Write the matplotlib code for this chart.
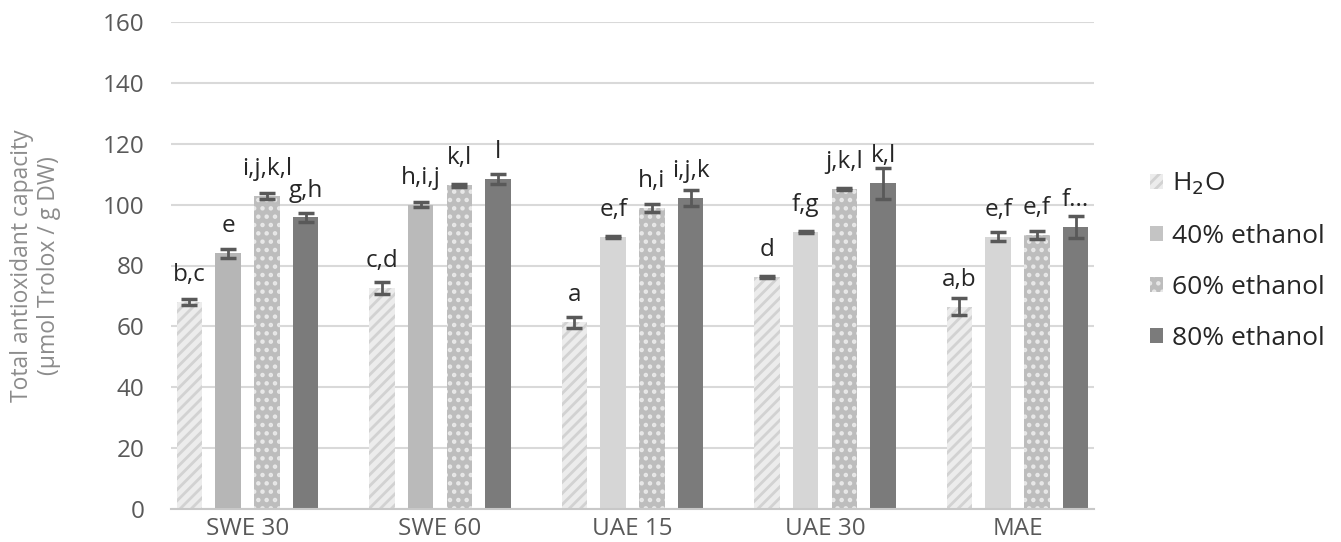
import matplotlib
matplotlib.use("Agg")
import matplotlib.pyplot as plt
import numpy as np
from matplotlib.patches import Patch

# ---- data ----
categories = ["SWE 30", "SWE 60", "UAE 15", "UAE 30", "MAE"]
series = ["H$_2$O", "40% ethanol", "60% ethanol", "80% ethanol"]
h2o = [68.0, 72.6, 61.4, 76.2, 66.4]
eth40 = [84.0, 100.0, 89.4, 91.0, 89.4]
eth60 = [102.8, 106.4, 98.9, 105.1, 90.0]
eth80 = [95.8, 108.4, 102.2, 107.0, 92.6]
err_h2o = [1.0, 2.0, 1.8, 0.3, 2.8]
err_40 = [1.5, 0.8, 0.3, 0.3, 1.5]
err_60 = [1.0, 0.5, 1.2, 0.3, 1.3]
err_80 = [1.5, 1.5, 2.6, 5.0, 3.6]
lab_h2o = ["b,c", "c,d", "a", "d", "a,b"]
lab_40 = ["e", "h,i,j", "e,f", "f,g", "e,f"]
lab_60 = ["i,j,k,l", "k,l", "h,i", "j,k,l", "e,f"]
lab_80 = ["g,h", "l", "i,j,k", "k,l", "f..."]

values = [h2o, eth40, eth60, eth80]
errors = [err_h2o, err_40, err_60, err_80]
labels = [lab_h2o, lab_40, lab_60, lab_80]

plt.rcParams['font.family'] = ['Open Sans', 'DejaVu Sans']
plt.rcParams['hatch.linewidth'] = 2.0

fig = plt.figure(figsize=(13.41, 5.42), dpi=100)
ax = fig.add_axes([171/1341, 1 - 509/542, (1094 - 171)/1341, (509 - 22)/542])

x = np.arange(len(categories))
step = 0.201
width = 0.1325

styles = [
    dict(facecolor=['#ececec'] * 5, edgecolor='#d2d2d2', hatch='///'),
    dict(facecolor=['#b6b6b6', '#bababa', '#d6d6d6', '#d6d6d6', '#d6d6d6'], edgecolor='#cfcfcf', hatch=None),
    dict(facecolor=['#bdbdbd'] * 5, edgecolor='#e8e8e8', hatch='..'),
    dict(facecolor=['#7b7b7b'] * 5, edgecolor='#7b7b7b', hatch=None),
]

for j in range(4):
    pos = x + (j - 1.5) * step
    st = styles[j]
    ax.bar(pos, values[j], width=width, color=st['facecolor'],
           edgecolor=st['edgecolor'], hatch=st['hatch'], linewidth=0, zorder=2)
    ax.errorbar(pos, values[j], yerr=errors[j], fmt='none', ecolor='#595959',
                elinewidth=2, capsize=6, capthick=2.5, zorder=3)
    for xi, v, t in zip(pos, values[j], labels[j]):
        ax.annotate(t, xy=(xi, v), xytext=(0, 15), textcoords='offset points',
                    ha='center', va='baseline', fontsize=17.5, color='#262626')

ax.set_ylim(0, 160)
ax.set_yticks(np.arange(0, 161, 20))
ax.set_xlim(2 - 2.3975, 2 + 2.3975)
ax.set_xticks(x)
ax.set_xticklabels(categories)
ax.yaxis.grid(True, color='#d9d9d9', linewidth=1.5, zorder=0)
ax.set_axisbelow(True)
for s in ['top', 'right', 'left']:
    ax.spines[s].set_visible(False)
ax.spines['bottom'].set_color('#c8c8c8')
ax.spines['bottom'].set_linewidth(1.5)
ax.tick_params(axis='both', length=0, labelsize=17.5, colors='#595959')
ax.tick_params(axis='y', pad=19)
ax.tick_params(axis='x', pad=6)
ax.set_ylabel("Total antioxidant capacity\n(µmol Trolox / g DW)", fontsize=16.5,
              color='#8c8c8c', labelpad=30, linespacing=1.15)

handles = [
    Patch(facecolor='#ececec', edgecolor='#d2d2d2', hatch='///', linewidth=0),
    Patch(facecolor='#c4c4c4', linewidth=0),
    Patch(facecolor='#bdbdbd', edgecolor='#e8e8e8', hatch='..', linewidth=0),
    Patch(facecolor='#7b7b7b', linewidth=0),
]
leg = fig.legend(handles, series, loc='center left', bbox_to_anchor=(1150/1341, 1 - 261/542),
                 frameon=False, fontsize=19, handlelength=0.5, handleheight=0.5,
                 handletextpad=0.35, labelspacing=1.0, borderpad=0, borderaxespad=0,
                 labelcolor='#262626')

fig.savefig("out.png", dpi=100)
